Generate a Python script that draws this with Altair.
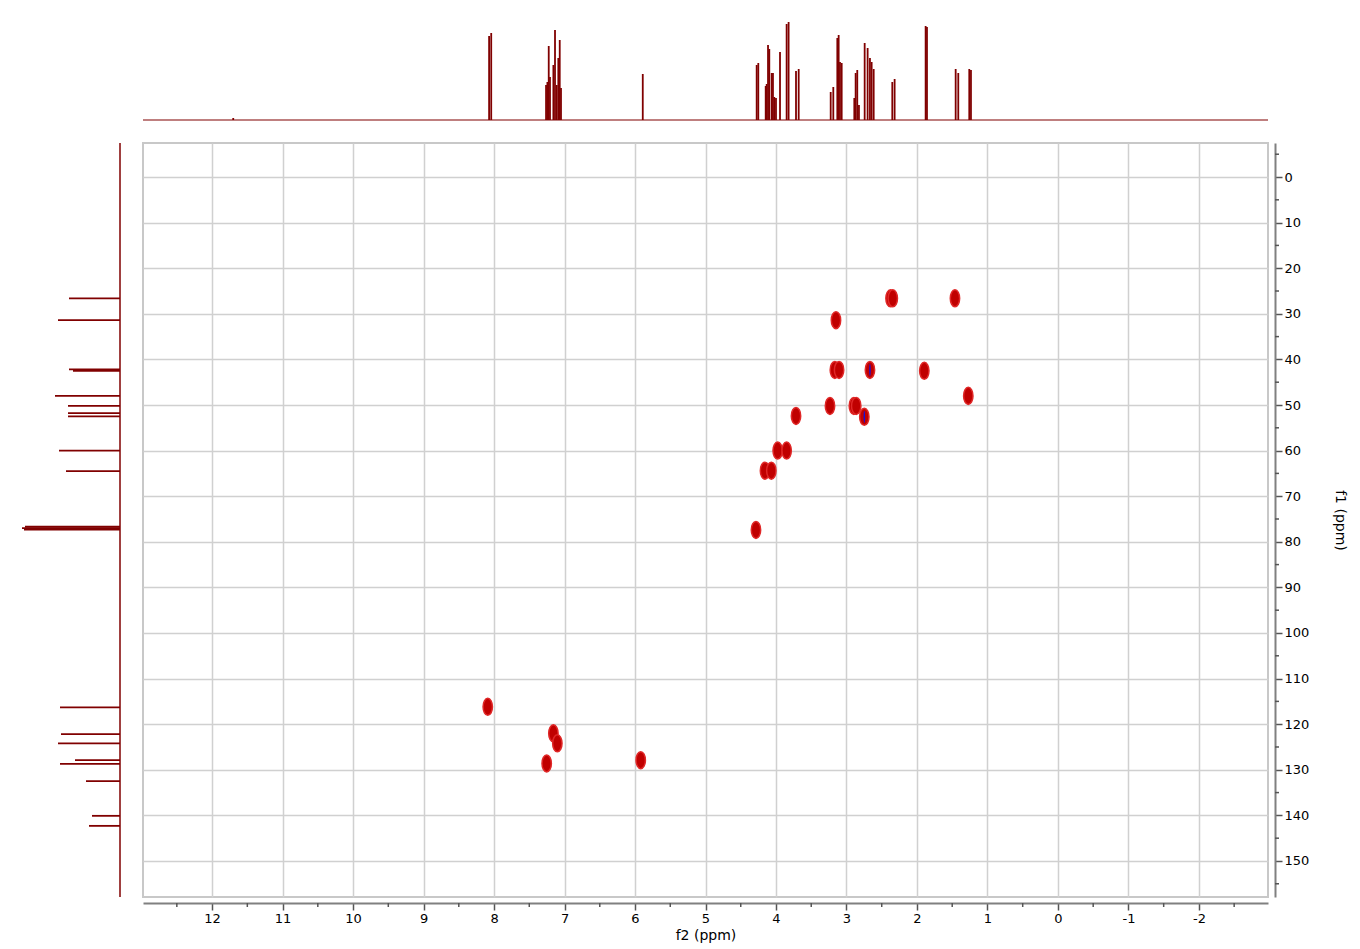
import altair as alt
import pandas as pd

RED = "#800000"

# 1H projection (top): line positions (ppm) and heights (arbitrary units)
h_ppm = [11.70, 8.07, 8.04, 7.262, 7.243, 7.224, 7.206, 7.158, 7.135, 7.111, 7.088, 7.068, 7.050,
         5.89, 4.274, 4.251, 4.146, 4.132, 4.113, 4.095, 4.061, 4.043, 4.024, 4.000, 3.943,
         3.849, 3.821, 3.716, 3.678, 3.224, 3.187, 3.130, 3.111, 3.092, 3.068, 2.889, 2.870,
         2.847, 2.823, 2.742, 2.700, 2.667, 2.643, 2.614, 2.350, 2.317, 1.877, 1.858, 1.451,
         1.414, 1.258, 1.234]
h_int = [2, 84, 87, 35, 38, 74, 43, 55, 90, 35, 62, 80, 32,
         46, 55, 57, 34, 36, 75, 71, 47, 47, 23, 22, 68,
         96, 98, 49, 51, 28, 33, 82, 85, 58, 57, 22, 47,
         50, 15, 77, 72, 62, 58, 51, 38, 41, 94, 93, 51,
         47, 51, 50]

# 13C projection (left)
c_ppm = [26.6, 31.4, 42.2, 42.5, 48.0, 50.2, 51.8, 52.5, 60.0, 64.5, 76.7, 77.0, 77.3,
         116.3, 122.2, 124.2, 127.9, 128.7, 132.5, 140.1, 142.3]
c_int = [51, 62, 51, 47, 65, 52, 52, 52, 61, 54, 95, 98, 96,
         60, 59, 62, 45, 60, 34, 28, 31]

# HSQC cross peaks (positive)
hsqc_h = [2.375, 2.343, 1.461, 3.149, 3.165, 3.105, 2.667, 1.896, 1.272, 3.234, 2.895, 2.862,
          2.747, 3.716, 3.976, 3.849, 4.156, 4.066, 4.284, 8.089, 7.158, 7.102, 7.253, 5.919]
hsqc_c = [26.6, 26.6, 26.6, 31.4, 42.3, 42.3, 42.3, 42.5, 48.0, 50.2, 50.2, 50.2,
          52.6, 52.4, 60.0, 60.0, 64.4, 64.4, 77.4, 116.2, 122.0, 124.2, 128.6, 127.9]

# negative contours
neg_h = [2.667, 2.747]
neg_c = [42.3, 52.6]

# axis ticks
x_major = list(range(-2, 13))
x_minor = [v + 0.5 for v in range(-3, 13)]
y_major = list(range(0, 151, 10))
y_minor = list(range(-5, 156, 10))

X_DOM = [-2.98, 12.98]
Y_DOM = [-7.46, 157.9]

W, H = 1125, 754
SIDE = 102
TOPH = 104

xscale = alt.Scale(domain=X_DOM, reverse=True, nice=False, zero=False)
yscale = alt.Scale(domain=Y_DOM, reverse=True, nice=False, zero=False)

ELLIPSE = "M -0.55,0 A 0.55,1 0 1,1 0.55,0 A 0.55,1 0 1,1 -0.55,0 Z"
NARROW = "M -0.12,0 A 0.12,1 0 1,1 0.12,0 A 0.12,1 0 1,1 -0.12,0 Z"

axis_common = dict(
    domainColor="#808080", domainWidth=2, tickColor="#555555", tickWidth=1.5, tickSize=7,
    labelColor="black", labelFont="DejaVu Sans", labelFontSize=13,
    titleColor="black", titleFont="DejaVu Sans", titleFontSize=14, titleFontWeight="normal",
    gridColor="#d0d0d0", gridWidth=1.5, grid=True, labelFlush=False, labelOverlap=False,
    labelExpr="'' + datum.value",
)

x_axis = alt.Axis(orient="bottom", values=x_major, title="f2 (ppm)", offset=6,
                  labelPadding=2, titlePadding=3, **axis_common)
y_axis = alt.Axis(orient="right", values=y_major, title="f1 (ppm)", offset=7,
                  labelPadding=2, titlePadding=24, titleAngle=90, **axis_common)

peaks = pd.DataFrame({"h": hsqc_h, "c": hsqc_c})
negs = pd.DataFrame({"h": neg_h, "c": neg_c})

pos_layer = alt.Chart(peaks).mark_point(
    shape=ELLIPSE, size=290, filled=True, fill="#c00000", stroke="#e02828",
    strokeWidth=1.5, opacity=1,
).encode(
    x=alt.X("h:Q", scale=xscale, axis=x_axis),
    y=alt.Y("c:Q", scale=yscale, axis=y_axis),
)
neg_layer = alt.Chart(negs).mark_point(
    shape=NARROW, size=150, filled=True, fill="#1010e0", opacity=1,
).encode(
    x=alt.X("h:Q", scale=xscale),
    y=alt.Y("c:Q", scale=yscale),
)

xminor_df = pd.DataFrame({"v": x_minor})
yminor_df = pd.DataFrame({"v": y_minor})
xminor_layer = alt.Chart(xminor_df).mark_rule(color="#555555", strokeWidth=1.5).encode(
    x=alt.X("v:Q", scale=xscale),
    y=alt.value(H + 6), y2=alt.value(H + 10),
)
yminor_layer = alt.Chart(yminor_df).mark_rule(color="#555555", strokeWidth=1.5).encode(
    y=alt.Y("v:Q", scale=yscale),
    x=alt.value(W + 7), x2=alt.value(W + 11),
)

main = alt.layer(pos_layer, neg_layer, xminor_layer, yminor_layer).properties(
    width=W, height=H, view=alt.ViewBackground(stroke="#c8c8c8", strokeWidth=2)
)

# top projection
top_df = pd.DataFrame({"ppm": h_ppm, "inten": h_int, "base": [0] * len(h_ppm)})
top_scale_y = alt.Scale(domain=[-2, 102], nice=False, zero=False)
top_peaks = alt.Chart(top_df).mark_rule(color=RED, strokeWidth=1.8).encode(
    x=alt.X("ppm:Q", scale=xscale, axis=None),
    y=alt.Y("inten:Q", scale=top_scale_y, axis=None),
    y2="base:Q",
)
top_base_df = pd.DataFrame({"a": [X_DOM[1]], "b": [X_DOM[0]], "y": [0]})
top_base = alt.Chart(top_base_df).mark_rule(color=RED, strokeWidth=1.2).encode(
    x=alt.X("a:Q", scale=xscale, axis=None),
    x2="b:Q",
    y=alt.Y("y:Q", scale=top_scale_y, axis=None),
)
top = alt.layer(top_base, top_peaks).properties(width=W, height=TOPH)

# left projection
left_df = pd.DataFrame({"ppm": c_ppm, "inten": c_int, "base": [0] * len(c_ppm)})
left_scale_x = alt.Scale(domain=[-2, 100], reverse=True, nice=False, zero=False)
left_peaks = alt.Chart(left_df).mark_rule(color=RED, strokeWidth=1.8).encode(
    y=alt.Y("ppm:Q", scale=yscale, axis=None),
    x=alt.X("inten:Q", scale=left_scale_x, axis=None),
    x2="base:Q",
)
left_base_df = pd.DataFrame({"a": [Y_DOM[0]], "b": [Y_DOM[1]], "x": [0]})
left_base = alt.Chart(left_base_df).mark_rule(color=RED, strokeWidth=1.5).encode(
    y=alt.Y("a:Q", scale=yscale, axis=None),
    y2="b:Q",
    x=alt.X("x:Q", scale=left_scale_x, axis=None),
)
left = alt.layer(left_base, left_peaks).properties(width=SIDE, height=H)

empty = alt.Chart(pd.DataFrame({"a": [0]})).mark_point(opacity=0).encode(
    x=alt.value(50), y=alt.value(50)
).properties(width=SIDE, height=TOPH)

chart = alt.concat(empty, top, left, main, columns=2, spacing=21, bounds="flush").properties(
    padding={"left": 12, "top": 10, "right": 0, "bottom": 0}
).configure(font="DejaVu Sans").configure_view(stroke=None)

chart.save("out.html", embed_options={"renderer": "svg", "actions": False})
